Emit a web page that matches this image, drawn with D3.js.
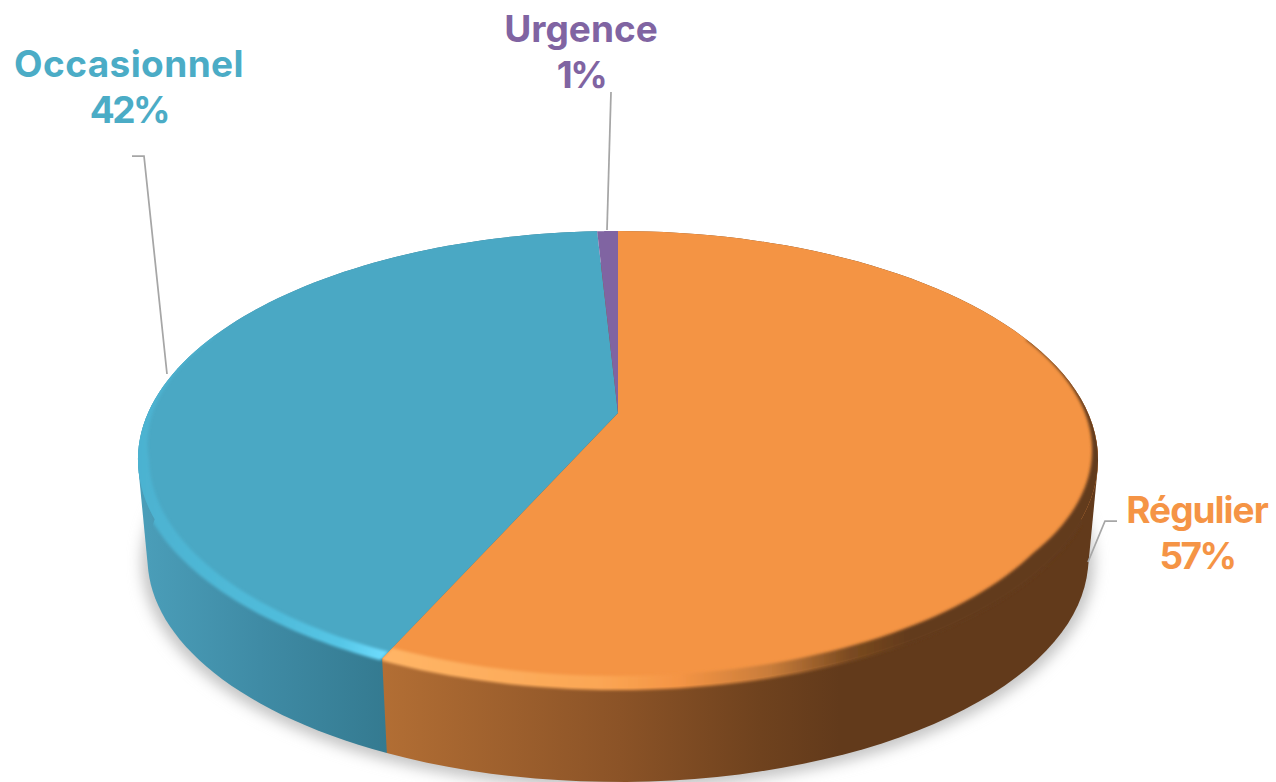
<!DOCTYPE html>
<html>
<head>
<meta charset="utf-8">
<script src="https://cdn.jsdelivr.net/npm/d3@7"></script>
<style>
  html, body { margin: 0; padding: 0; background: #fff; }
  svg { display: block; }
  text { font-family: Inter, Lato, "Noto Sans", sans-serif; font-weight: 700; text-anchor: middle; }
</style>
</head>
<body>
<div id="chart"></div>
<script>
// --------------------------------------
//  Data
// --------------------------------------

const categories = ["Régulier", "Occasionnel", "Urgence"];
const shares = [56.7, 42.45, 0.85];
const faceColors = ["#f49444", "#4aa8c4", "#8064a2"];
const textColors = ["#f59445", "#4bacc6", "#8064a2"];

// --------------------------------------
//  Canvas
// --------------------------------------

const width = 1276, height = 782;

const svg = d3.select("#chart")
  .append("svg")
    .attr("width", width)
    .attr("height", height)
    .attr("viewBox", [0, 0, width, height]);

const defs = svg.append("defs");

defs.append("filter").attr("id", "soft")
    .attr("x", "-20%").attr("y", "-20%").attr("width", "140%").attr("height", "140%")
  .append("feGaussianBlur").attr("stdDeviation", 1.8);

defs.append("filter").attr("id", "shadow")
    .attr("x", "-20%").attr("y", "-20%").attr("width", "140%").attr("height", "140%")
  .append("feGaussianBlur").attr("stdDeviation", 7);

function addGradient(id, stops) {
  const g = defs.append("linearGradient").attr("id", id)
      .attr("gradientUnits", "userSpaceOnUse")
      .attr("x1", 137).attr("x2", 1097).attr("y1", 0).attr("y2", 0);
  stops.forEach(s => g.append("stop")
      .attr("offset", (s[0] - 137) / 960)
      .attr("stop-color", s[1]));
}

addGradient("wall0", [[384, "#b26e34"], [620, "#8b5327"], [760, "#6f421e"], [840, "#623a1b"], [1097, "#623a1b"]]);
addGradient("wall1", [[147, "#4a9db8"], [260, "#3f8ba5"], [388, "#347a90"]]);
addGradient("bevel0", [[384, "#ffb566"], [600, "#fba654"], [680, "#f49444"], [770, "#c87c3a"], [850, "#7a4a20"], [910, "#623a1b"], [1097, "#623a1b"]]);
addGradient("bevel1", [[137, "#4cb2d0"], [280, "#50bcdb"], [340, "#55c6e6"], [388, "#70ddff"]]);

// --------------------------------------
//  Scales : flat disc seen in perspective
// --------------------------------------

const cx = 618, cy = 413;
const radius = 470, depth = 219, persp = 0.2035;
const lowerScale = 0.98, lowerCy = 512.5;

// angle clockwise from the top of the disc, r in disc units
function project(angle, r = 1, scale = 1, centerY = cy) {
  const u = r * Math.sin(angle), v = -r * Math.cos(angle);
  const w = 1 - persp * v;
  return [cx + scale * radius * u / w, centerY + scale * depth * v / w];
}

const arcAngles = (a0, a1) => d3.range(0, 91).map(i => a0 + (a1 - a0) * i / 90);
const line = d3.line();

const pie = d3.pie().sort(null).value(d => d)(shares);

const rim = (d, r = 1) => arcAngles(d.startAngle, d.endAngle).map(a => project(a, r));
const lowerRim = d => arcAngles(d.startAngle, d.endAngle).map(a => project(a, 1, lowerScale, lowerCy));
const wallHull = d => line(d3.polygonHull(rim(d).concat(lowerRim(d)))) + "Z";
const wallBand = d => line(rim(d).concat(lowerRim(d).reverse())) + "Z";
const facePath = d => line([[cx, cy]].concat(rim(d))) + "Z";

// --------------------------------------
//  Shadow
// --------------------------------------

svg.append("path")
    .attr("d", line(arcAngles(0, 2 * Math.PI).map(a => project(a, 1.012, lowerScale, lowerCy + 3))) + "Z")
    .attr("fill", "#c4c4c4")
    .attr("filter", "url(#shadow)");

// --------------------------------------
//  Side walls (only the two front slices show one)
// --------------------------------------

[1, 0].forEach(i => {
  svg.append("path")
      .attr("d", wallHull(pie[i]))
      .attr("fill", `url(#wall${i})`);
});

// --------------------------------------
//  Top face
// --------------------------------------

svg.append("g")
  .selectAll("path")
  .data(pie)
  .join("path")
    .attr("d", facePath)
    .attr("fill", (d, i) => faceColors[i]);

// --------------------------------------
//  Bevel on the front of the rim
// --------------------------------------

const bevelRanges = [[1.2, pie[0].endAngle], [pie[1].startAngle, 5.1]];
const bevelWidths = [0.035, 0.022];
const bevelFades = [1, 0.6];

[1, 0].forEach(i => {
  const d = pie[i];
  defs.append("clipPath").attr("id", `clip${i}`)
    .append("path")
      .attr("d", wallBand(d) + facePath(d));

  const a0 = bevelRanges[i][0], a1 = bevelRanges[i][1];
  const taper = a => {
    const t = Math.min(1, Math.abs(a - (i === 0 ? a0 : a1)) / bevelFades[i]);
    return 0.05 + 0.95 * t * t;
  };
  const angles = arcAngles(a0, a1);
  const outer = angles.map(a => project(a, 1.006));
  const inner = angles.map(a => project(a, 1 - bevelWidths[i] * taper(a))).reverse();

  svg.append("g")
      .attr("clip-path", `url(#clip${i})`)
    .append("path")
      .attr("d", line(outer.concat(inner)) + "Z")
      .attr("fill", `url(#bevel${i})`)
      .attr("filter", "url(#soft)");
});

// --------------------------------------
//  Leader lines
// --------------------------------------

const leaders = [
  [[1117, 521], [1105, 521], [1088, 562]],
  [[132, 156], [144, 156], [167, 374]],
  [[611, 92], [607, 230]]
];

svg.append("g")
  .selectAll("path")
  .data(leaders)
  .join("path")
    .attr("d", d => line(d))
    .attr("fill", "none")
    .attr("stroke", "#a6a6a6")
    .attr("stroke-width", 1.75);

// --------------------------------------
//  Labels
// --------------------------------------

const labelPos = [[1197, 523], [129, 77], [581, 42]];
const labelSpacing = [-1, 0.4, 0];
const percent = d3.format(".0f");

const labels = svg.append("g")
  .selectAll("g")
  .data(pie)
  .join("g")
    .attr("transform", (d, i) => `translate(${labelPos[i]})`)
    .attr("fill", (d, i) => textColors[i])
    .style("font-size", "37px");

labels.append("text")
    .style("letter-spacing", (d, i) => `${labelSpacing[i]}px`)
    .text((d, i) => categories[i]);

labels.append("text")
    .attr("y", 46)
    .style("letter-spacing", "-2.5px")
    .text(d => `${percent(d.value)}%`);
</script>
</body>
</html>
